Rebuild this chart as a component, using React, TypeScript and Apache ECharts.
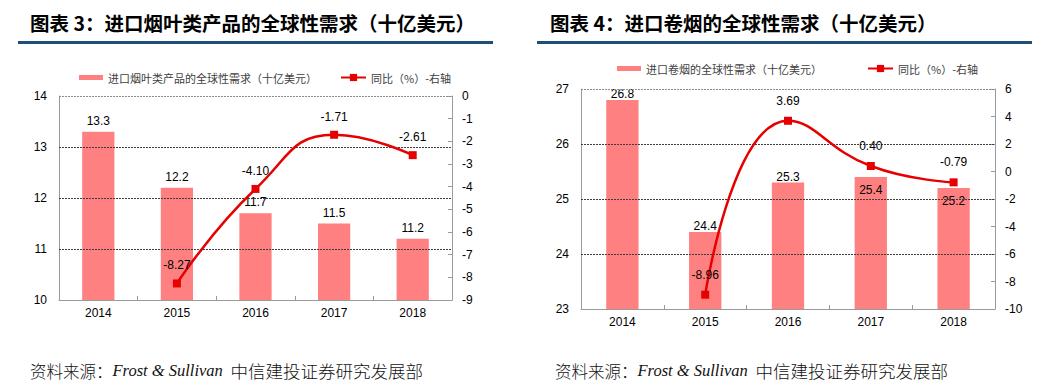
import React, { useEffect, useRef } from 'react';
import * as echarts from 'echarts';

const years = ['2014', '2015', '2016', '2017', '2018'];
const leafDemand = [13.3, 12.2, 11.7, 11.5, 11.2];
const leafYoY: (number | null)[] = [null, -8.27, -4.1, -1.71, -2.61];
const cigDemand = [26.8, 24.4, 25.3, 25.4, 25.2];
const cigYoY: (number | null)[] = [null, -8.96, 3.69, 0.4, -0.79];

// left-axis gridline values
const leafGridTicks = [11, 12, 13, 14];
const cigGridTicks = [24, 25, 26, 27];

const leafTitle = '图表 3：进口烟叶类产品的全球性需求（十亿美元）';
const cigTitle = '图表 4：进口卷烟的全球性需求（十亿美元）';
const leafBarName = '进口烟叶类产品的全球性需求（十亿美元）';
const cigBarName = '进口卷烟的全球性需求（十亿美元）';
const yoyName = '同比（%）-右轴';
const sourceLabel = '资料来源：';
const sourceName = 'Frost & Sullivan';
const sourceOrg = '中信建投证券研究发展部';

// bars in the right chart whose value label sits inside the bar top
const cigInsideLabels = [3, 4];

const BAR = '#FF8080';
const LINE = '#E60000';
const AXIS = '#9a9a9a';
const SANS = '"Liberation Sans", Arial, "Noto Sans CJK SC", sans-serif';
const CJK = '"Noto Sans CJK SC", "Liberation Sans", sans-serif';

export default function App() {
  const ref = useRef<HTMLDivElement>(null);
  useEffect(() => {
    if (!ref.current) return;
    const chart = echarts.init(ref.current, undefined, { renderer: 'svg' });

    const xAxis = (gi: number) => ({
      type: 'category',
      gridIndex: gi,
      data: years,
      boundaryGap: true,
      axisLine: { show: true, onZero: false, lineStyle: { color: AXIS, width: 1 } },
      axisTick: { show: true, inside: true, length: 4, lineStyle: { color: AXIS } },
      axisLabel: { color: '#000', fontSize: 12, fontFamily: SANS, margin: 7 },
      splitLine: { show: false },
      z: 3,
    });
    const yLeft = (gi: number, min: number, max: number, interval: number) => ({
      type: 'value',
      gridIndex: gi,
      position: 'left',
      min,
      max,
      interval,
      axisLine: { show: true, lineStyle: { color: AXIS } },
      axisTick: { show: false },
      axisLabel: { color: '#000', fontSize: 12, fontFamily: SANS, margin: 12 },
      splitLine: { show: false },
      z: 3,
    });
    const yRight = (gi: number, min: number, max: number, interval: number) => ({
      type: 'value',
      gridIndex: gi,
      position: 'right',
      min,
      max,
      interval,
      axisLine: { show: true, lineStyle: { color: AXIS } },
      axisTick: { show: true, inside: true, length: 4, lineStyle: { color: AXIS } },
      axisLabel: { color: '#000', fontSize: 12, fontFamily: SANS, margin: 10 },
      splitLine: { show: false },
      z: 3,
    });

    const labelStyle = { color: '#000', fontSize: 12, fontFamily: SANS };

    const legendBase = {
      orient: 'horizontal',
      textStyle: { color: '#404040', fontSize: 11, fontFamily: CJK },
      selectedMode: false,
    };

    const gridSeries = (xi: number, yi: number, ticks: number[]) => ({
      type: 'line',
      name: 'grid',
      xAxisIndex: xi,
      yAxisIndex: yi,
      data: [],
      silent: true,
      z: 1,
      markLine: {
        silent: true,
        symbol: 'none',
        label: { show: false },
        emphasis: { disabled: true },
        data: ticks.map((v, i) => ({
          yAxis: v,
          lineStyle: {
            color: i === ticks.length - 1 ? '#8c8c8c' : '#3c3c3c',
            type: [2, 1],
            width: 1,
          },
        })),
      },
    });

    const sourceStyle = (left: number) => ({
      type: 'text',
      left,
      top: 362,
      style: {
        text: `{a|${sourceLabel}}{b|${sourceName}}{c|  ${sourceOrg}}`,
        fill: '#000',
        rich: {
          a: { fontFamily: CJK, fontSize: 16.5, fontWeight: 300, fill: '#111' },
          b: { fontFamily: '"Liberation Serif", serif', fontStyle: 'italic', fontSize: 16.5, fill: '#111' },
          c: { fontFamily: CJK, fontSize: 17.5, fontWeight: 300, fill: '#111' },
        },
      },
    });

    const option: any = {
      animation: false,
      backgroundColor: '#fff',
      grid: [
        { left: 59, top: 96, width: 393, height: 204, containLabel: false },
        { left: 581, top: 89, width: 414, height: 220, containLabel: false },
      ],
      legend: [
        { ...legendBase, data: [{ name: leafBarName, icon: 'rect' }], left: 74, top: 67, itemWidth: 24, itemHeight: 5, itemGap: 4 },
        { ...legendBase, data: [yoyName], left: 335, top: 67, itemWidth: 25, itemHeight: 9, itemGap: 2 },
        { ...legendBase, data: [{ name: cigBarName, icon: 'rect' }], left: 612, top: 58, itemWidth: 24, itemHeight: 5, itemGap: 4 },
        { ...legendBase, data: [yoyName], left: 862, top: 58, itemWidth: 25, itemHeight: 9, itemGap: 2 },
      ],
      xAxis: [xAxis(0), xAxis(1)],
      yAxis: [yLeft(0, 10, 14, 1), yRight(0, -9, 0, 1), yLeft(1, 23, 27, 1), yRight(1, -10, 6, 2)],
      series: [
        gridSeries(0, 0, leafGridTicks),
        gridSeries(1, 2, cigGridTicks),
        {
          name: leafBarName,
          type: 'bar',
          xAxisIndex: 0,
          yAxisIndex: 0,
          data: leafDemand,
          barWidth: '41%',
          itemStyle: { color: BAR },
          z: 2,
          label: { show: true, position: 'top', distance: 5, ...labelStyle, formatter: (p: any) => Number(p.value).toFixed(1) },
        },
        {
          name: yoyName,
          type: 'line',
          xAxisIndex: 0,
          yAxisIndex: 1,
          data: leafYoY,
          smooth: 0.5,
          symbol: 'rect',
          symbolSize: 8,
          itemStyle: { color: LINE },
          lineStyle: { color: LINE, width: 2.5 },
          label: { show: true, position: 'top', distance: 8, ...labelStyle, formatter: (p: any) => Number(p.value).toFixed(2) },
          z: 5,
        },
        {
          name: cigBarName,
          type: 'bar',
          xAxisIndex: 1,
          yAxisIndex: 2,
          data: cigDemand.map((v, i) =>
            cigInsideLabels.includes(i) ? { value: v, label: { position: 'insideTop', distance: 7 } } : v
          ),
          barWidth: '39%',
          itemStyle: { color: BAR },
          z: 2,
          label: { show: true, position: 'top', distance: 0, ...labelStyle, formatter: (p: any) => Number(p.value).toFixed(1) },
        },
        {
          name: yoyName,
          type: 'line',
          xAxisIndex: 1,
          yAxisIndex: 3,
          data: cigYoY,
          smooth: 0.5,
          symbol: 'rect',
          symbolSize: 8,
          itemStyle: { color: LINE },
          lineStyle: { color: LINE, width: 2.5 },
          label: { show: true, position: 'top', distance: 10, ...labelStyle, formatter: (p: any) => Number(p.value).toFixed(2) },
          z: 5,
        },
      ],
      graphic: [
        {
          type: 'text',
          left: 30,
          top: 13,
          style: { text: leafTitle, font: `bold 19.5px ${CJK}`, fill: '#000' },
        },
        {
          type: 'text',
          left: 550,
          top: 13,
          style: { text: cigTitle, font: `bold 19.5px ${CJK}`, fill: '#000' },
        },
        { type: 'rect', shape: { x: 18, y: 41, width: 475, height: 3 }, style: { fill: '#1F4E79' } },
        { type: 'rect', shape: { x: 537, y: 41, width: 495, height: 3 }, style: { fill: '#1F4E79' } },
        sourceStyle(30),
        sourceStyle(555),
      ],
    };
    chart.setOption(option);
    return () => chart.dispose();
  }, []);
  return (
    <div
      ref={ref}
      style={{ position: 'fixed', left: 0, top: 0, width: 1050, height: 391, background: '#fff' }}
    />
  );
}
